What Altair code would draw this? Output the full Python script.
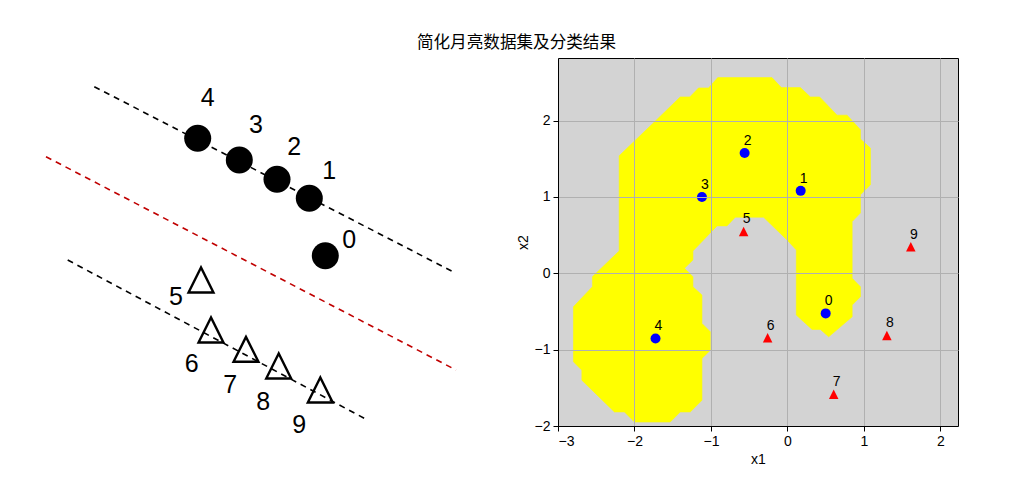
import altair as alt
import pandas as pd

TITLE = "简化月亮数据集及分类结果"

# ---------------- right panel: simplified moons data ----------------
pt_id = [0, 1, 2, 3, 4, 5, 6, 7, 8, 9]
pt_x1 = [0.50, 0.173, -0.56, -1.118, -1.725, -0.573, -0.259, 0.605, 1.30, 1.613]
pt_x2 = [-0.525, 1.08, 1.575, 1.0, -0.853, 0.549, -0.845, -1.584, -0.814, 0.349]
pt_cls = [0, 0, 0, 0, 0, 1, 1, 1, 1, 1]

# boundary of the region classified as class 0 (yellow), in data units
region_x1 = [-0.911, -0.202, -0.080, 0.169, 0.300, 0.421, 0.649, 0.780, 0.954, 0.954,
             1.085, 1.085, 0.954, 0.954, 0.846, 0.846, 0.954, 0.954, 0.846, 0.846,
             0.539, 0.431, 0.322, 0.116, 0.116, -0.005, -0.312, -0.682, -0.791, -0.921,
             -1.236, -1.236, -1.346, -1.236, -1.236, -1.118, -1.118, -1.009, -1.009, -1.118,
             -1.118, -1.271, -1.402, -1.533, -2.000, -2.131, -2.262, -2.688, -2.688, -2.798,
             -2.798, -2.550, -2.550, -2.200, -2.200, -1.716, -1.402, -1.277, -1.162, -1.031]
region_x2 = [2.563, 2.563, 2.432, 2.432, 2.310, 2.310, 2.071, 2.071, 1.881, 1.759,
             1.640, 1.159, 1.028, 0.791, 0.677, -0.066, -0.176, -0.307, -0.416, -0.570,
             -0.832, -0.735, -0.735, -0.547, 0.306, 0.437, 0.735, 0.735, 0.621, 0.621,
             0.293, 0.175, 0.066, -0.045, -0.176, -0.285, -0.656, -0.766, -1.007, -1.115,
             -1.663, -1.816, -1.816, -1.948, -1.948, -1.816, -1.816, -1.400, -1.269, -1.160,
             -0.438, -0.176, -0.045, 0.293, 1.539, 2.005, 2.310, 2.310, 2.428, 2.428]

x1_ticks = [-3, -2, -1, 0, 1, 2]
x2_ticks = [-2, -1, 0, 1, 2]

# ---------------- left panel: schematic (image coordinates, y downwards) ----------------
circle_id = [4, 3, 2, 1, 0]
circle_x = [176.7, 218.3, 256.0, 288.3, 304.3]
circle_y = [80.3, 102.0, 121.3, 140.3, 197.7]
circle_lx = [186.7, 235.0, 273.3, 308.3, 328.3]
circle_ly = [40.3, 67.0, 89.3, 113.0, 182.0]

tri_id = [5, 6, 7, 8, 9]
tri_x = [180.0, 190.0, 225.0, 257.7, 299.3]
tri_y = [222.0, 272.0, 291.3, 308.0, 332.0]
tri_lx = [155.0, 170.7, 209.3, 242.3, 278.3]
tri_ly = [238.7, 306.0, 327.0, 343.7, 367.0]

line_name = ["upper", "upper", "middle", "middle", "lower", "lower"]
line_x = [73.3, 435.0, 25.0, 435.0, 46.7, 343.3]
line_y = [28.7, 215.3, 98.7, 312.0, 202.0, 360.3]

# ---------------- data frames ----------------
pts = pd.DataFrame({"id": pt_id, "x1": pt_x1, "x2": pt_x2, "cls": pt_cls})
reg = pd.DataFrame({"i": list(range(len(region_x1))), "x1": region_x1, "x2": region_x2})
circ = pd.DataFrame({"id": circle_id, "x": circle_x, "y": circle_y, "lx": circle_lx, "ly": circle_ly})
tri = pd.DataFrame({"id": tri_id, "x": tri_x, "y": tri_y, "lx": tri_lx, "ly": tri_ly})
lines = pd.DataFrame({"name": line_name, "x": line_x, "y": line_y})

TRI = "M0,-1L-1,1L1,1Z"
LAT = "Liberation Sans"

# ---------------- left chart ----------------
lxs = alt.Scale(domain=[0, 460], nice=False, zero=False)
lys = alt.Scale(domain=[0, 368], nice=False, zero=False, reverse=True)

l_lines = alt.Chart(lines).mark_line(strokeDash=[6, 5], strokeWidth=1.6).encode(
    x=alt.X("x:Q", scale=lxs, axis=None),
    y=alt.Y("y:Q", scale=lys, axis=None),
    color=alt.Color("name:N", scale=alt.Scale(domain=["upper", "middle", "lower"],
                                             range=["black", "#c00000", "black"]), legend=None),
    detail="name:N",
)
l_circ = alt.Chart(circ).mark_point(shape="circle", filled=True, color="black", opacity=1, size=729).encode(
    x=alt.X("x:Q", scale=lxs, axis=None), y=alt.Y("y:Q", scale=lys, axis=None))
l_circ_t = alt.Chart(circ).mark_text(font=LAT, fontSize=25, color="black", baseline="middle", align="center").encode(
    x=alt.X("lx:Q", scale=lxs, axis=None), y=alt.Y("ly:Q", scale=lys, axis=None), text="id:N")
l_tri = alt.Chart(tri).mark_point(shape=TRI, filled=False, color="black", opacity=1, size=620, strokeWidth=2.4).encode(
    x=alt.X("x:Q", scale=lxs, axis=None), y=alt.Y("y:Q", scale=lys, axis=None))
l_tri_t = alt.Chart(tri).mark_text(font=LAT, fontSize=25, color="black", baseline="middle", align="center").encode(
    x=alt.X("lx:Q", scale=lxs, axis=None), y=alt.Y("ly:Q", scale=lys, axis=None), text="id:N")

left = alt.layer(l_lines, l_circ, l_circ_t, l_tri, l_tri_t).properties(
    width=460, height=368,
    view=alt.ViewBackground(stroke="transparent", fill="transparent"),
)

# ---------------- right chart ----------------
rxs = alt.Scale(domain=[-3, 2.23], nice=False, zero=False)
rys = alt.Scale(domain=[-2.0, 2.82], nice=False, zero=False)
xax = alt.Axis(values=x1_ticks, format="d", title="x1", grid=True, zindex=1)
yax = alt.Axis(values=x2_ticks, format="d", title="x2", grid=True, zindex=1)

r_reg = alt.Chart(reg).mark_line(fill="yellow", stroke="yellow", strokeWidth=0.6,
                                 interpolate="linear-closed").encode(
    x=alt.X("x1:Q", scale=rxs, axis=xax),
    y=alt.Y("x2:Q", scale=rys, axis=yax),
    order="i:Q",
)
r_c = alt.Chart(pts).transform_filter("datum.cls == 0").mark_point(
    shape="circle", filled=True, color="blue", opacity=1, size=100).encode(
    x=alt.X("x1:Q", scale=rxs), y=alt.Y("x2:Q", scale=rys))
r_t = alt.Chart(pts).transform_filter("datum.cls == 1").mark_point(
    shape=TRI, filled=True, color="red", opacity=1, size=90).encode(
    x=alt.X("x1:Q", scale=rxs), y=alt.Y("x2:Q", scale=rys))
r_txt = alt.Chart(pts).mark_text(font=LAT, fontSize=14, color="black", dx=3, dy=-12,
                                 baseline="middle", align="center").encode(
    x=alt.X("x1:Q", scale=rxs), y=alt.Y("x2:Q", scale=rys), text="id:N")

right = alt.layer(r_reg, r_c, r_t, r_txt).properties(
    width=400, height=368,
    view=alt.ViewBackground(fill="#d3d3d3", stroke="black", strokeWidth=1),
)

chart = alt.hconcat(left, right, spacing=33).properties(
    title=alt.TitleParams(TITLE, font="Noto Sans CJK SC", fontSize=16.6, fontWeight="normal",
                          color="black", anchor="middle", dx=27, offset=6),
    padding={"left": 20, "top": 34, "right": 5, "bottom": 5},
).configure_view(stroke="transparent").configure_axis(
    labelFont=LAT, labelFontSize=14, labelColor="black", labelPadding=3,
    titleFont=LAT, titleFontSize=14, titleFontWeight="normal", titleColor="black",
    domainColor="black", domainWidth=1, tickColor="black", tickSize=5, tickWidth=1,
    gridColor="#b0b0b0", gridWidth=1,
)

chart.save("out.html", embed_options={"renderer": "svg", "actions": False})
